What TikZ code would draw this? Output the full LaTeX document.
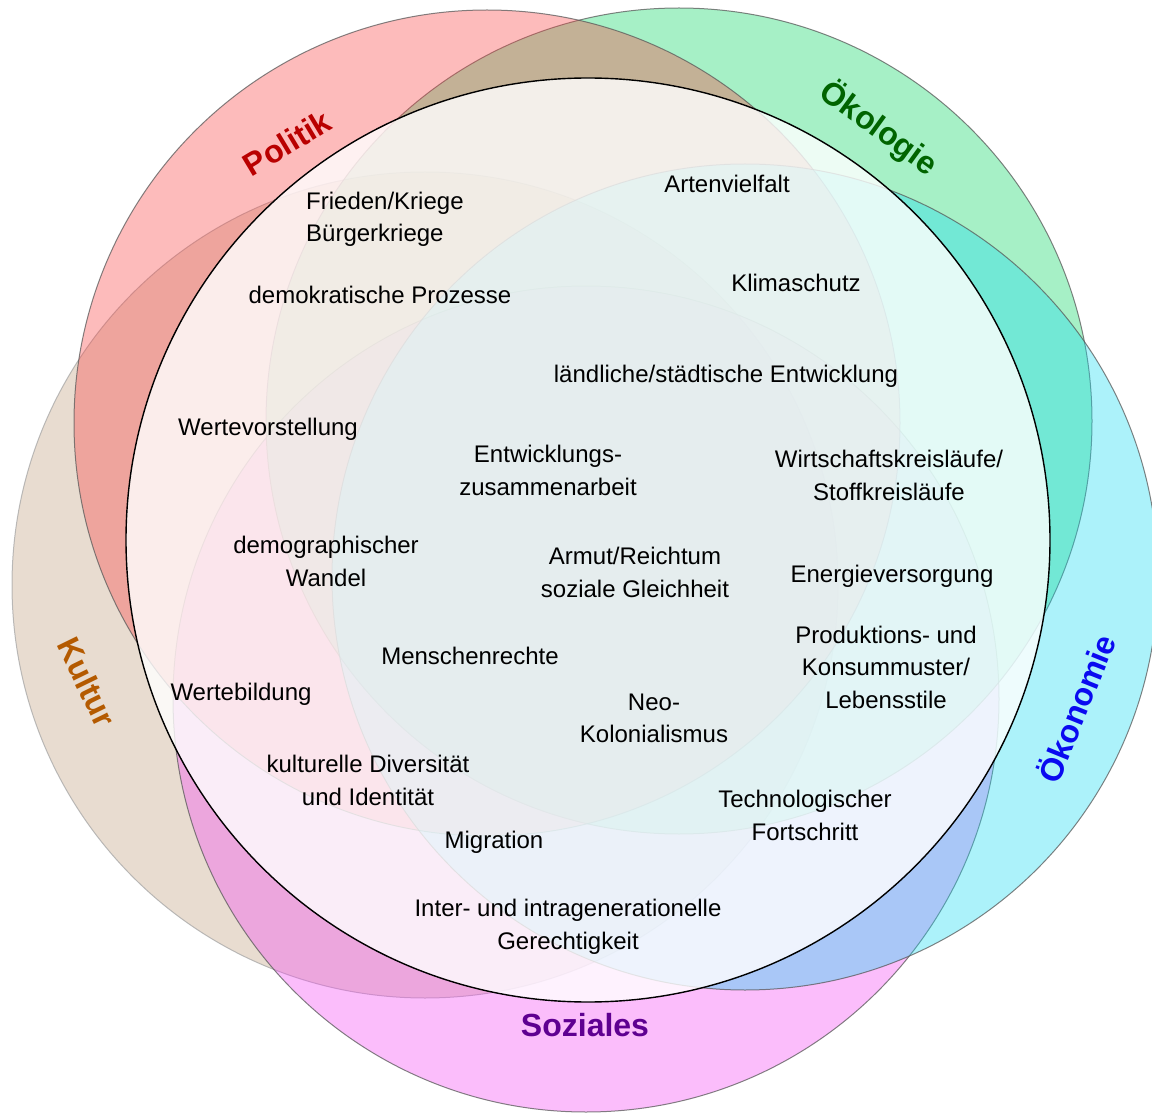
\documentclass[tikz,border=0pt]{standalone}
\usepackage{fontspec}
\setmainfont{Liberation Sans}
\definecolor{cred}{RGB}{249,67,67}
\definecolor{cgreen}{RGB}{8,213,97}
\definecolor{ccyan}{RGB}{24,219,241}
\definecolor{cmag}{RGB}{244,72,244}
\definecolor{ctan}{RGB}{191,158,124}
\definecolor{lpol}{RGB}{185,0,0}
\definecolor{loek}{RGB}{0,100,0}
\definecolor{lwirt}{RGB}{10,10,240}
\definecolor{lsoz}{RGB}{95,0,145}
\definecolor{lkul}{RGB}{180,90,0}
\begin{document}
\begin{tikzpicture}[x=1pt,y=-1pt,
  ring/.style={draw=black!65, line width=1pt, draw opacity=0.75, fill opacity=0.36},
  txt/.style={font=\fontsize{24}{32.5}\selectfont, align=center, inner sep=0pt,
    execute at begin node=\strut, execute at end node=\strut},
  cat/.style={font=\fontsize{32}{38}\selectfont\bfseries, inner sep=0pt}]
\clip (0,0) rectangle (1152,1115);
% five domain circles
\path[ring, fill=ctan, draw=black!35] (425,585) circle[radius=413];
\path[ring, fill=cmag] (586,699) circle[radius=413];
\path[ring, fill=cgreen] (679,421) circle[radius=413];
\path[ring, fill=cred] (487,423) circle[radius=413];
\path[ring, fill=ccyan] (745,577) circle[radius=413];
% central circle
\path[fill=white, fill opacity=0.8, draw=black, line width=1.4pt] (588,540) circle[radius=462];
% domain labels
\node[cat, text=lpol, rotate=31] (politik) at (287,143) {Politik};
\node[cat, text=loek, rotate=-36] (oekologie) at (879,128) {Ökologie};
\node[cat, text=lwirt, rotate=68] (oekonomie) at (1075,708) {Ökonomie};
\node[cat, text=lsoz] (soziales) at (585,1025) {Soziales};
\node[cat, text=lkul, rotate=-64] (kultur) at (87,682) {Kultur};
% topics
\node[txt, align=left, anchor=west] (t1) at (306,221.5) {Frieden/Kriege\\Bürgerkriege};
\node[txt] (t2) at (380,297) {demokratische Prozesse};
\node[txt] (t3) at (727,186) {Artenvielfalt};
\node[txt] (t4) at (796,285) {Klimaschutz};
\node[txt] (t5) at (726,376) {ländliche/städtische Entwicklung};
\node[txt] (t6) at (268,429) {Wertevorstellung};
\node[txt] (t7) at (548,475) {Entwicklungs-\\zusammenarbeit};
\node[txt] (t8) at (889,480) {Wirtschaftskreisläufe/\\Stoffkreisläufe};
\node[txt] (t9) at (326,566) {demographischer\\Wandel};
\node[txt] (t10) at (635,577) {Armut/Reichtum\\soziale Gleichheit};
\node[txt] (t11) at (892,576) {Energieversorgung};
\node[txt] (t12) at (470,658) {Menschenrechte};
\node[txt] (t13) at (886,672) {Produktions- und\\Konsummuster/\\Lebensstile};
\node[txt] (t14) at (241,694) {Wertebildung};
\node[txt] (t15) at (654,723) {Neo-\\Kolonialismus};
\node[txt] (t16) at (368,785) {kulturelle Diversität\\und Identität};
\node[txt] (t17) at (805,820) {Technologischer\\Fortschritt};
\node[txt] (t18) at (494,842) {Migration};
\node[txt] (t19) at (568,929) {Inter- und intragenerationelle\\Gerechtigkeit};
\end{tikzpicture}
\end{document}
